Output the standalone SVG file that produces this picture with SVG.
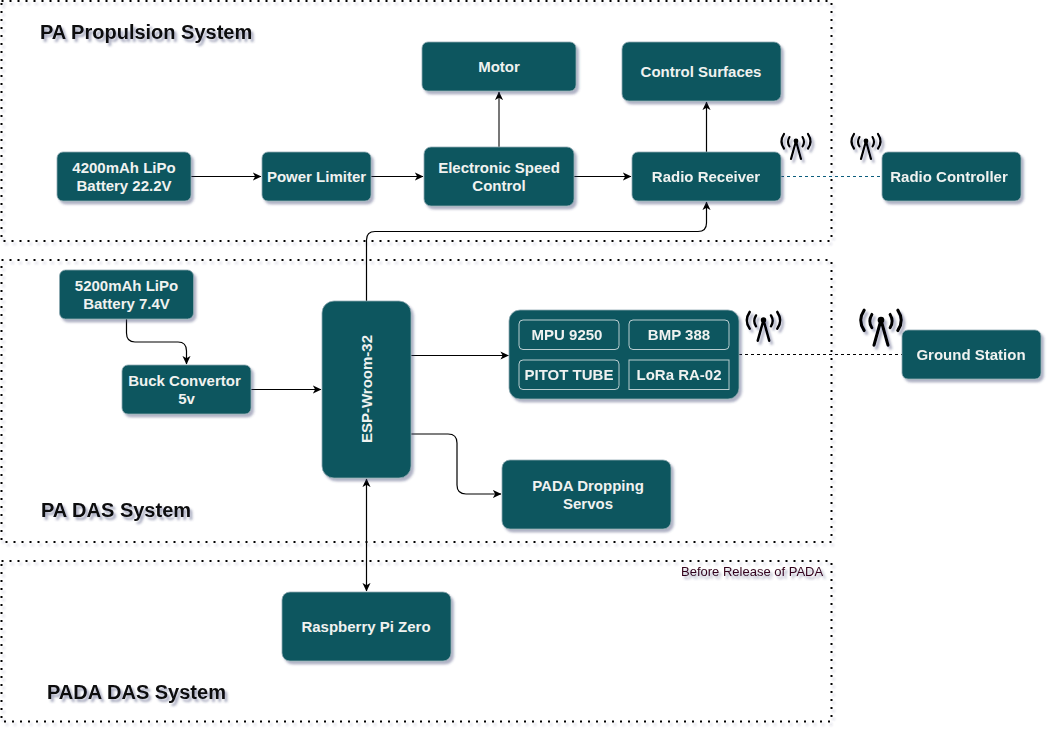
<svg xmlns="http://www.w3.org/2000/svg" width="1053" height="736" viewBox="0 0 1053 736">
<style>
.n{fill:#0e565e;stroke:#8fa9b3;stroke-width:.8;filter:url(#sh)}
.in{fill:none;stroke:#b9cdd0;stroke-width:1}
.t{font-family:"Liberation Sans",Arial,sans-serif;font-weight:700;font-size:15px;fill:#f0f2f0;text-anchor:middle}
.h{font-family:"Liberation Sans",Arial,sans-serif;font-weight:700;font-size:20px;fill:#0a0a0a;filter:url(#tsh)}
.f{fill:none;stroke:#000;stroke-width:2;stroke-dasharray:2 6;filter:url(#fsh)}
.c{fill:none;stroke:#000;stroke-width:1.2}
.ant{fill:none;stroke:#000;stroke-linecap:round;filter:url(#tsh)}
</style>
<defs>
<filter id="sh" x="-10%" y="-10%" width="125%" height="130%"><feDropShadow dx="2.5" dy="3" stdDeviation="1.3" flood-color="#3a3f70" flood-opacity=".4"/></filter>
<filter id="tsh" x="-10%" y="-20%" width="125%" height="150%"><feDropShadow dx="2.5" dy="3" stdDeviation="1.3" flood-color="#3a3f70" flood-opacity=".45"/></filter>
<filter id="fsh" x="-2%" y="-2%" width="104%" height="106%"><feDropShadow dx="2" dy="3" stdDeviation="1.2" flood-color="#3a3f70" flood-opacity=".25"/></filter>
<marker id="a" viewBox="0 0 10 10" refX="9" refY="5" markerWidth="9" markerHeight="9" markerUnits="userSpaceOnUse" orient="auto-start-reverse"><path d="M0,0.5 L9.5,5 L0,9.5 L2.5,5Z" fill="#000"/></marker>
<g id="antenna"><circle cx="0" cy="0" r="2.4" fill="#000" stroke="none"/><path d="M0,0 L-5,18 M0,0 L5,18" stroke-width="2.2"/><path d="M-6.500,-4 Q-9.500,1 -6.500,5.500 M6.500,-4 Q9.500,1 6.500,5.500" stroke-width="2.1"/><path d="M-12,-7 Q-17,0.500 -12,7.500 M12,-7 Q17,0.500 12,7.500" stroke-width="2.2"/></g>
</defs>
<g id="frames">
<rect class="f" x="1.500" y="1" width="830" height="240"/>
<rect class="f" x="1.500" y="260" width="830" height="282"/>
<rect class="f" x="1.500" y="561" width="830" height="160.500"/>
</g>
<g id="labels">
<text class="h" x="40" y="38.500">PA Propulsion System</text>
<text class="h" x="41" y="516.500">PA DAS System</text>
<text class="h" x="47" y="698.500">PADA DAS System</text>
<text x="681" y="576" font-family="'Liberation Sans',Arial,sans-serif" font-size="13px" fill="#33001a" filter="url(#tsh)">Before Release of PADA</text>
</g>
<g id="connectors">
<path class="c" d="M191,176.500H261" marker-end="url(#a)"/>
<path class="c" d="M371,176.500H423" marker-end="url(#a)"/>
<path class="c" d="M574,176.500H631" marker-end="url(#a)"/>
<path class="c" d="M499,147V92" style="stroke:#555;stroke-width:1.6" marker-end="url(#a)"/>
<path class="c" d="M706.500,152V102" marker-end="url(#a)"/>
<path class="c" d="M781,176.500H882" style="stroke:#0b5d7d;stroke-width:1;stroke-dasharray:3 3"/>
<path class="c" d="M739,354.500H902" style="stroke-width:1;stroke-dasharray:3 3"/>
<path class="c" d="M366.500,301V240Q366.500,231.500 375,231.500H698Q706.500,231.500 706.500,223V202" marker-end="url(#a)"/>
<path class="c" d="M126.500,319V333Q126.500,342 135,342H178Q186.500,342 186.500,351V364" marker-end="url(#a)"/>
<path class="c" d="M251,389.500H321" marker-end="url(#a)"/>
<path class="c" d="M411,355.500H508.500" marker-end="url(#a)"/>
<path class="c" d="M411,434H448Q457,434 457,443V485Q457,494 466,494H501" marker-end="url(#a)"/>
<path class="c" d="M366.500,479V591" marker-start="url(#a)" marker-end="url(#a)"/>
</g>
<g id="antennas" class="ant">
<use href="#antenna" transform="translate(796,141)"/>
<use href="#antenna" transform="translate(866,141)"/>
<use href="#antenna" transform="translate(763.500,320) scale(1.15)"/>
<use href="#antenna" transform="translate(881,320) scale(1.4)"/>
</g>
<g id="n-battery1"><rect class="n" x="57" y="152" width="134" height="49" rx="6"/><text class="t" x="124" y="173">4200mAh LiPo</text><text class="t" x="124" y="191">Battery 22.2V</text></g>
<g id="n-limiter"><rect class="n" x="262" y="152" width="109" height="49" rx="6"/><text class="t" x="316.500" y="182">Power Limiter</text></g>
<g id="n-esc"><rect class="n" x="424" y="147" width="150" height="59" rx="7"/><text class="t" x="499" y="173">Electronic Speed</text><text class="t" x="499" y="191">Control</text></g>
<g id="n-motor"><rect class="n" x="422" y="42" width="154" height="49" rx="6"/><text class="t" x="499" y="72">Motor</text></g>
<g id="n-surfaces"><rect class="n" x="622" y="42" width="159" height="59" rx="7"/><text class="t" x="701" y="77">Control Surfaces</text></g>
<g id="n-receiver"><rect class="n" x="632" y="152" width="149" height="49" rx="6"/><text class="t" x="706" y="182">Radio Receiver</text></g>
<g id="n-controller"><rect class="n" x="882" y="152" width="139" height="49" rx="6"/><text class="t" x="949" y="182">Radio Controller</text></g>
<g id="n-ground"><rect class="n" x="902" y="330" width="139" height="49" rx="6"/><text class="t" x="971" y="360">Ground Station</text></g>
<g id="n-battery2"><rect class="n" x="59.500" y="270" width="134" height="49" rx="6"/><text class="t" x="126.500" y="291">5200mAh LiPo</text><text class="t" x="126.500" y="309">Battery 7.4V</text></g>
<g id="n-buck"><rect class="n" x="122" y="365" width="129" height="49" rx="6"/><text class="t" x="184.500" y="386">Buck Convertor</text><text class="t" x="186.500" y="404">5v</text></g>
<g id="n-esp"><rect class="n" x="322" y="301" width="89" height="177" rx="12"/><text class="t" transform="translate(371.500,389) rotate(-90)">ESP-Wroom-32</text></g>
<g id="n-sensors"><rect class="n" x="509" y="310" width="230" height="89" rx="11"/>
<rect class="in" x="519" y="320" width="100" height="29.500" rx="4"/><text class="t" x="567" y="340">MPU 9250</text>
<rect class="in" x="629" y="320" width="100" height="29.500" rx="4"/><text class="t" x="679" y="340">BMP 388</text>
<rect class="in" x="519" y="360" width="100" height="29.500" rx="4"/><text class="t" x="569" y="380">PITOT TUBE</text>
<rect class="in" x="629" y="360" width="100" height="29.500"/><text class="t" x="679" y="380">LoRa RA-02</text></g>
<g id="n-servos"><rect class="n" x="502" y="460" width="169" height="69" rx="8"/><text class="t" x="588" y="491">PADA Dropping</text><text class="t" x="588" y="509">Servos</text></g>
<g id="n-rpi"><rect class="n" x="282" y="592" width="169" height="69" rx="8"/><text class="t" x="366" y="632">Raspberry Pi Zero</text></g>
</svg>
